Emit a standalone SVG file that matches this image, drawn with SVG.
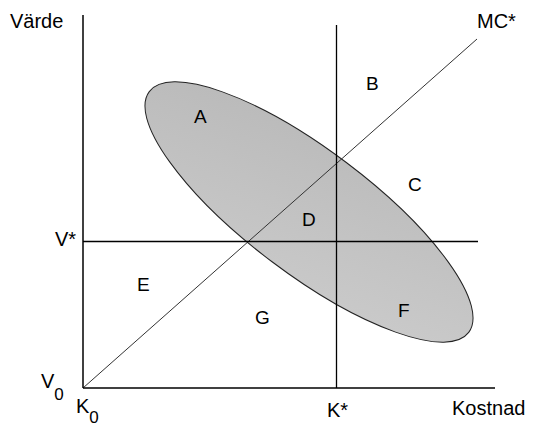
<svg xmlns="http://www.w3.org/2000/svg" width="533" height="427" viewBox="0 0 533 427">
<style>
text{font-family:"Liberation Sans",Arial,sans-serif;font-size:19px;fill:#000}
.ax{stroke:#000;stroke-width:1.5;fill:none}
.ln{stroke:#000;stroke-width:1.3;fill:none}
.mc{stroke:#333;stroke-width:1;fill:none}
.lbl{font-size:20px}
</style>
<defs>
<linearGradient id="g" x1="0" y1="0" x2="1" y2="1">
<stop offset="0" stop-color="#b8b8b8"/>
<stop offset="1" stop-color="#cccccc"/>
</linearGradient>
</defs>
<rect width="533" height="427" fill="#fff"/>
<g id="region">
<ellipse cx="309" cy="212" rx="200" ry="62" transform="rotate(37 309 212)" fill="url(#g)" stroke="#222" stroke-width="1"/>
</g>
<g id="connectors">
<line class="mc" x1="83" y1="388" x2="477" y2="39"/>
<line class="ln" x1="83" y1="241.5" x2="478" y2="241.5"/>
<line class="ln" x1="336.5" y1="25" x2="336.5" y2="388"/>
<line class="ax" x1="83" y1="15" x2="83" y2="388"/>
<line class="ax" x1="83" y1="388" x2="495" y2="388"/>
</g>
<g id="axis-labels">
<text class="lbl" x="10" y="28">Värde</text>
<text class="lbl" x="452" y="415">Kostnad</text>
<text class="lbl" x="477" y="28">MC*</text>
<text class="lbl" x="327" y="417">K*</text>
<text class="lbl" x="55" y="246">V*</text>
<text class="lbl" x="41" y="388">V<tspan font-size="17" dy="12">0</tspan></text>
<text class="lbl" x="76" y="413">K<tspan font-size="17" dy="10">0</tspan></text>
</g>
<g id="areas">
<text x="194" y="123">A</text>
<text x="366" y="90">B</text>
<text x="408" y="191">C</text>
<text x="302" y="226">D</text>
<text x="137" y="291">E</text>
<text x="398" y="317">F</text>
<text x="255" y="324">G</text>
</g>
</svg>
